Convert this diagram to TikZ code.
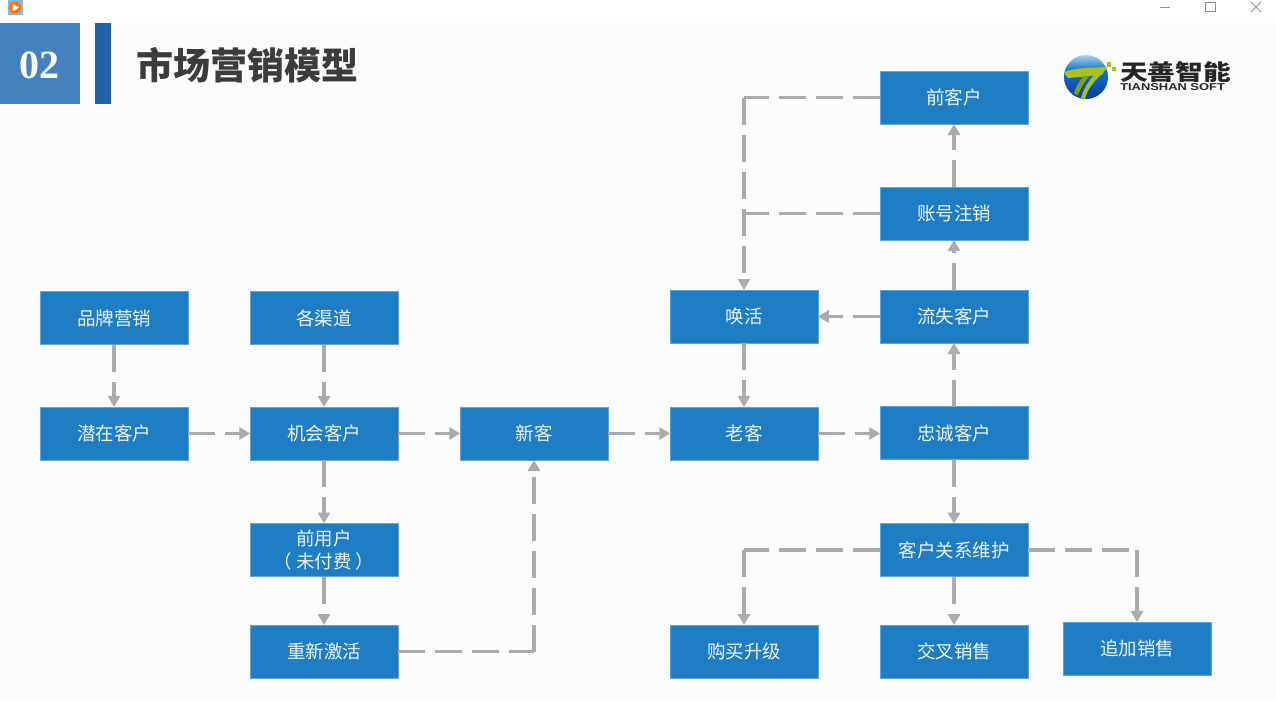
\documentclass[tikz,border=0pt]{standalone}
\usepackage{fontspec}
\setmainfont{Liberation Sans}
\newfontfamily\cjk{Noto Sans CJK SC}
\newfontfamily\serifnum{Liberation Serif}
\usetikzlibrary{arrows.meta,shadings}
\definecolor{pagebg}{HTML}{FCFCFD}
\definecolor{boxblue}{HTML}{1F7DC4}
\definecolor{boxedge}{HTML}{5FA5DA}
\definecolor{flowgrey}{HTML}{ABABAE}
\definecolor{squareblue}{HTML}{4382BF}
\definecolor{barblue}{HTML}{1F62A8}
\definecolor{titlegrey}{HTML}{3C3C3C}
\definecolor{chromegrey}{HTML}{8E8E8E}
\definecolor{logolime}{HTML}{A6C31C}
\definecolor{logolimedark}{HTML}{7FA314}
\definecolor{globedeep}{HTML}{0A3C9E}
\definecolor{globemid}{HTML}{1470C8}
\definecolor{globesky}{HTML}{A8D4EC}
\tikzset{
  x=1pt,y=-1pt,
  flowbox/.style={draw=boxedge,line width=0.5pt,fill=boxblue,text=white!92!boxblue,
    minimum width=147.5pt,minimum height=53pt,inner sep=0pt,outer sep=0pt,
    align=center,font=\cjk\fontsize{18.5}{23}\selectfont},
  flow/.style={draw=flowgrey,line width=3.1pt,dash pattern=on 27pt off 10pt},
  flowarrow/.style={flow,-{Triangle[length=11pt,width=12pt]}},
  chrome/.style={draw=chromegrey,line width=0.9pt}
}
\begin{document}
\begin{tikzpicture}
\useasboundingbox (0,0) rectangle (1276,701);
\fill[white] (0,0) rectangle (1276,701);
\fill[pagebg] (0,23) rectangle (1276,701);

% window controls
\fill[squareblue!60] (8,0) rectangle (22.5,15);
\fill[orange!90!red] (15,7.5) circle (6);
\fill[white] (12.5,3.5) -- (19,7.5) -- (12.5,11.5) -- cycle;
\draw[chrome] (1160,7) -- (1170,7);
\draw[chrome] (1205.5,2.5) rectangle (1215,11.5);
\draw[chrome] (1251,2) -- (1261,12) (1261,2) -- (1251,12);

% section heading
\fill[squareblue] (0,23) rectangle (80,104);
\fill[barblue] (95,23) rectangle (111,104);
\node[text=white,font=\serifnum\bfseries\fontsize{40}{40}\selectfont,inner sep=0pt] (num) at (39,65) {02};
\node[text=titlegrey,font=\cjk\bfseries\fontsize{37}{40}\selectfont,inner sep=0pt,anchor=west] (title) at (136,65) {市场营销模型};

% company mark: globe with a sky cap and a two-legged T
\begin{scope}
  \clip (1086,77) circle (22);
  \shade[top color=globemid,bottom color=globedeep] (1064,70) rectangle (1108,99);
  \shade[top color=globesky,bottom color=globemid] (1064,55) rectangle (1108,70.2);
\end{scope}
\fill[logolime] (1064,72) .. controls (1075,67.5) and (1092,68) .. (1107,67)
  -- (1102,75) -- (1068,78) .. controls (1066,76) and (1065,74) .. (1064,72) -- cycle;
\fill[logolimedark] (1084,76) .. controls (1079,81) and (1076,87) .. (1074,93)
  -- (1078,95.5) .. controls (1080,88) and (1085,81) .. (1090,75.5) -- cycle;
\fill[logolime] (1094,75) .. controls (1088,82) and (1083,90) .. (1081,98)
  -- (1085,99) .. controls (1087,90) and (1093,82) .. (1101,75) -- cycle;
\fill[logolime] (1107,62) rectangle (1111,67);
\fill[logolime] (1112,67) rectangle (1116,71);
\node[text=black!85,font=\cjk\bfseries\fontsize{22}{24}\selectfont,inner sep=0pt,anchor=west,xscale=1.26] (brandcn) at (1120,72) {天善智能};
\node[text=black!85,font=\bfseries\fontsize{10}{11}\selectfont,inner sep=0pt,anchor=west,xscale=1.29] (branden) at (1120,87.5) {TIANSHAN SOFT};

% process boxes
\node[flowbox] (brand)    at (114,318)    {品牌营销};
\node[flowbox] (prospect) at (114,433.5)  {潜在客户};
\node[flowbox] (channel)  at (324,318)    {各渠道};
\node[flowbox] (chance)   at (324,433.5)  {机会客户};
\node[flowbox] (preuser)  at (324,550)    {前用户\\（ 未付费 ）};
\node[flowbox] (react)    at (324,651.5)  {重新激活};
\node[flowbox] (newc)     at (534,433.5)  {新客};
\node[flowbox] (oldc)     at (744,433.5)  {老客};
\node[flowbox] (wake)     at (744,316.5)  {唤活};
\node[flowbox] (loyal)    at (954,433)    {忠诚客户};
\node[flowbox] (lost)     at (954,316.5)  {流失客户};
\node[flowbox] (cancel)   at (954,213.5)  {账号注销};
\node[flowbox] (former)   at (954,97.5)   {前客户};
\node[flowbox] (care)     at (954,550)    {客户关系维护};
\node[flowbox] (upgrade)  at (744,651.5)  {购买升级};
\node[flowbox] (cross)    at (954,651.5)  {交叉销售};
\node[flowbox] (upsell)   at (1137,648.5) {追加销售};

% junctions on the reactivation trunk
\coordinate (trunktop) at (wake.north |- former.west);
\coordinate (trunkmid) at (wake.north |- cancel.west);

% connectors
\draw[flowarrow] (brand.south) -- (prospect.north);
\draw[flowarrow] (channel.south) -- (chance.north);
\draw[flowarrow] (prospect.east) -- (chance.west);
\draw[flowarrow] (chance.east) -- (newc.west);
\draw[flowarrow] (newc.east) -- (oldc.west);
\draw[flowarrow] (oldc.east) -- (loyal.west |- oldc.east);
\draw[flowarrow] (chance.south) -- (preuser.north);
\draw[flowarrow] (preuser.south) -- (react.north);
\draw[flow] (react.east) -- (react.east -| newc.south);
\draw[flowarrow] (react.east -| newc.south) -- (newc.south);
\draw[flowarrow] (wake.south) -- (oldc.north);
\draw[flowarrow] (lost.west) -- (wake.east);
\draw[flowarrow] (loyal.north) -- (lost.south);
\draw[flowarrow] (lost.north) -- (cancel.south);
\draw[flowarrow] (cancel.north) -- (former.south);
\draw[flow] (former.west) -- (trunktop);
\draw[flow] (cancel.west) -- (trunkmid);
\draw[flowarrow] (trunktop) -- (wake.north);
\draw[flowarrow] (loyal.south) -- (care.north);
\draw[flowarrow] (care.south) -- (cross.north);
\draw[flow] (care.west) -- (care.west -| upgrade.north);
\draw[flowarrow] (care.west -| upgrade.north) -- (upgrade.north);
\draw[flow] (care.east) -- (care.east -| upsell.north);
\draw[flowarrow] (care.east -| upsell.north) -- (upsell.north);
\end{tikzpicture}
\end{document}
